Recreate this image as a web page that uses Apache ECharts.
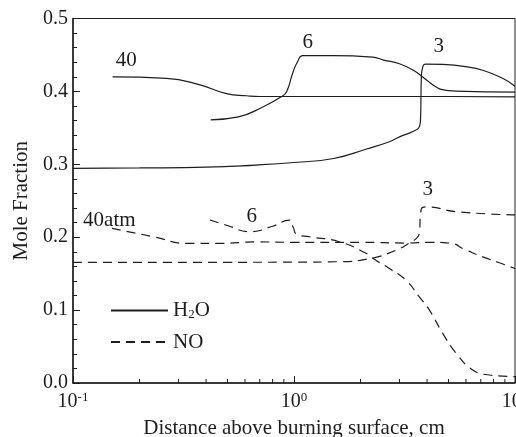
<!DOCTYPE html>
<html>
<head>
<meta charset="utf-8">
<script src="https://cdn.jsdelivr.net/npm/echarts@6/dist/echarts.min.js"></script>
<style>
  html, body { margin: 0; padding: 0; background: #fff; }
  #chart { width: 516px; height: 437px; }
</style>
</head>
<body>
<div id="chart"></div>
<script>
// Mole fraction profiles of H2O and NO above the burning surface (3, 6, 40 atm)
const h2o40 = [[0.151,0.420],[0.265,0.418],[0.376,0.409],[0.495,0.397],[0.611,0.394],[0.701,0.393],[1.0,0.393],[2.0,0.393],[5.0,0.393],[10,0.3925]];
const h2o6 = [[0.42,0.361],[0.56,0.365],[0.726,0.379],[0.879,0.393],[0.927,0.400],[0.986,0.425],[1.039,0.441],[1.094,0.449],[1.5,0.449],[2.27,0.447],[2.54,0.443],[3.0,0.438],[3.47,0.429],[3.98,0.4156],[4.4,0.406],[4.74,0.402],[5.4,0.4005],[10,0.399]];
const h2o3 = [[0.1,0.2945],[0.2,0.295],[0.4,0.296],[0.673,0.299],[1.0,0.3025],[1.51,0.308],[2.13,0.321],[2.70,0.331],[3.02,0.338],[3.45,0.345],[3.70,0.352],[3.74,0.365],[3.77,0.42],[3.82,0.433],[3.92,0.4375],[4.71,0.437],[6.0,0.434],[7.15,0.429],[8.79,0.418],[10,0.407]];
const no40 = [[0.15,0.212],[0.231,0.2007],[0.327,0.1916],[0.462,0.1916],[0.678,0.1935],[1.0,0.193],[2.0,0.193],[3.2,0.192],[4.2,0.193],[5.05,0.192],[6.0,0.1824],[7.15,0.173],[8.5,0.165],[10,0.157]];
const no6 = [[0.417,0.2236],[0.5,0.216],[0.632,0.2076],[0.8,0.215],[0.952,0.2235],[0.99,0.214],[1.03,0.204],[1.17,0.2007],[1.6,0.1938],[2.12,0.178],[2.3,0.170],[2.70,0.157],[3.21,0.141],[3.69,0.118],[4.10,0.100],[4.71,0.068],[5.41,0.041],[6.44,0.018],[7.66,0.011],[10,0.0087]];
const no3 = [[0.1,0.1656],[0.5,0.1656],[1.0,0.1658],[1.6,0.1664],[2.23,0.171],[2.89,0.182],[3.33,0.192],[3.60,0.199],[3.69,0.206],[3.74,0.232],[3.82,0.241],[4.0,0.2415],[5.41,0.235],[10,0.2305]];

// curve annotations: [x, y, text]
const h2oLabels = [[0.174,0.443,'40'],[1.153,0.467,'6'],[4.52,0.462,'3']];
const noLabels = [[0.146,0.2236,'40atm'],[0.644,0.228,'6'],[4.03,0.265,'3']];

// axis ticks
const xMinorTicks = [0.2,0.3,0.4,0.5,0.6,0.7,0.8,0.9,2,3,4,5,6,7,8,9];
const yTicks = { min: 0, max: 0.5, step: 0.1 };

const ink = '#1e1e1e';
const serif = '"Liberation Serif", "Times New Roman", serif';

function curve(name, data, dashed) {
  return {
    type: 'line', name: name, data: data,
    symbol: 'none', smooth: 0.5,
    lineStyle: { color: ink, width: 1.2, type: dashed ? [9, 6] : 'solid' },
    itemStyle: { color: ink },
    silent: true, animation: false
  };
}

function notes(data) {
  return {
    type: 'custom', silent: true, animation: false, clip: false,
    data: data,
    renderItem: (params, api) => {
      const p = api.coord([api.value(0), api.value(1)]);
      return {
        type: 'text', x: p[0], y: p[1],
        style: {
          text: data[params.dataIndex][2], fill: ink, font: '21px ' + serif,
          align: 'center', verticalAlign: 'middle'
        }
      };
    }
  };
}

const chart = echarts.init(document.getElementById('chart'), null, { renderer: 'canvas' });
chart.setOption({
  backgroundColor: '#fff',
  animation: false,
  grid: { left: 73, right: 1, top: 18.5, bottom: 54, show: true, borderColor: ink, borderWidth: 1, containLabel: false, outerBoundsMode: 'none' },
  legend: {
    data: ['H2O', 'NO'], orient: 'vertical', left: 105, top: 295,
    itemWidth: 57, itemHeight: 14, itemGap: 10,
    itemStyle: { opacity: 0 },
    formatter: n => n === 'H2O' ? '{t|H}{s|2}{t|O}' : '{t|NO}',
    textStyle: {
      color: ink, fontFamily: serif, fontSize: 21,
      rich: {
        t: { fontFamily: serif, fontSize: 21, color: ink, lineHeight: 22 },
        s: { fontFamily: serif, fontSize: 13, color: ink, lineHeight: 22, verticalAlign: 'bottom', padding: [8, 0, 0, 0] }
      }
    }
  },
  xAxis: {
    type: 'log', logBase: 10, min: 0.1, max: 10,
    name: 'Distance above burning surface, cm', nameLocation: 'middle', nameGap: 35,
    nameTextStyle: { color: ink, fontFamily: serif, fontSize: 21 },
    axisLine: { lineStyle: { color: ink, width: 1.5 } },
    axisTick: { inside: true, length: 7, lineStyle: { color: ink, width: 1 } },
    splitLine: { show: false },
    axisLabel: {
      margin: 8,
      formatter: v => '{b|10}{s|' + Math.round(Math.log10(v)) + '}',
      rich: {
        b: { fontFamily: serif, fontSize: 20, color: ink, lineHeight: 22 },
        s: { fontFamily: serif, fontSize: 13, color: ink, lineHeight: 22, verticalAlign: 'top', padding: [0, 0, 8, 0] }
      }
    }
  },
  yAxis: {
    type: 'value', min: yTicks.min, max: yTicks.max, interval: yTicks.step,
    name: 'Mole Fraction', nameLocation: 'middle', nameGap: 40, nameRotate: 90,
    nameTextStyle: { color: ink, fontFamily: serif, fontSize: 21 },
    axisLine: { show: true, lineStyle: { color: ink, width: 1.5 } },
    axisTick: { inside: true, length: 7, lineStyle: { color: ink, width: 1 } },
    minorTick: { show: true, splitNumber: 5, length: 4, lineStyle: { color: ink, width: 1 } },
    splitLine: { show: false },
    axisLabel: { margin: 5, color: ink, fontFamily: serif, fontSize: 20, formatter: v => v.toFixed(1) }
  },
  series: [
    curve('H2O', h2o40, false),
    curve('H2O', h2o6, false),
    curve('H2O', h2o3, false),
    curve('NO', no40, true),
    curve('NO', no6, true),
    curve('NO', no3, true),
    notes(h2oLabels),
    notes(noLabels),
    {
      // minor ticks of the logarithmic axis
      type: 'custom', silent: true, animation: false, clip: false,
      data: xMinorTicks.map(v => [v, 0]),
      renderItem: (params, api) => {
        const p = api.coord([api.value(0), api.value(1)]);
        return { type: 'line', shape: { x1: p[0], y1: p[1], x2: p[0], y2: p[1] - 4 }, style: { stroke: ink, lineWidth: 1 } };
      }
    }
  ]
});
</script>
</body>
</html>
